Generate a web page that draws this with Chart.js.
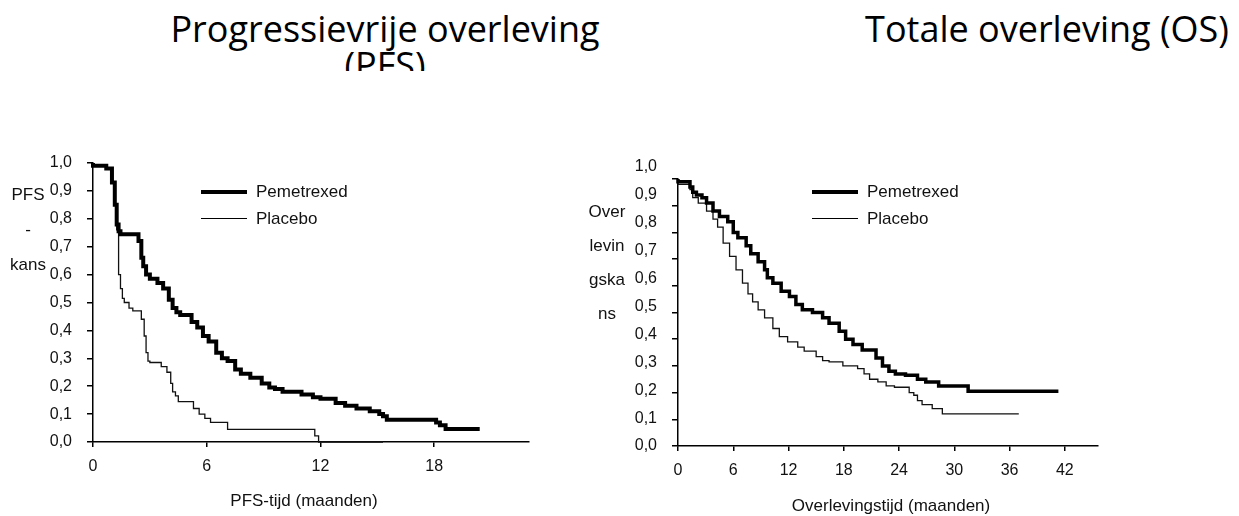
<!DOCTYPE html>
<html>
<head>
<meta charset="utf-8">
<script src="https://cdn.jsdelivr.net/npm/chart.js@4.4.1/dist/chart.umd.min.js"></script>
<style>
  html, body { margin: 0; padding: 0; background: #fff; }
  body { width: 1239px; height: 516px; position: relative; overflow: hidden; font-family: 'Liberation Sans', Arial, sans-serif; color: #111; }
  .title { position: absolute; font-family: 'Open Sans', 'Noto Sans', sans-serif; font-size: 36px; line-height: 36px; text-align: center; overflow: hidden; color: #000; }
  .box { position: absolute; }
  .ytitle { position: absolute; font-size: 17px; line-height: 35px; text-align: center; }
  .xtitle { position: absolute; font-size: 17px; white-space: nowrap; transform: translate(-50%, -50%); }
  .leg { position: absolute; font-size: 17px; }
  .leg div { position: relative; height: 27px; line-height: 27px; padding-left: 55px; }
  .leg span { position: absolute; left: 0; width: 46px; top: 50%; background: #000; }
</style>
</head>
<body>
<div class="title" style="left:160px; top:11px; width:450px; height:60px;">Progressievrije overleving (PFS)</div>
<div class="title" style="left:822px; top:11px; width:450px; height:60px;">Totale overleving (OS)</div>

<div class="box" style="left:0; top:133px; width:560px; height:383px;"><canvas id="pfs"></canvas></div>
<div class="box" style="left:600px; top:150px; width:639px; height:366px;"><canvas id="os"></canvas></div>

<div class="ytitle" style="left:0; top:177px; width:56px;">PFS<br>-<br>kans</div>
<div class="ytitle" style="left:582px; top:195px; width:50px; line-height:34px;">Over<br>levin<br>gska<br>ns</div>

<div class="xtitle" style="left:304px; top:501px;">PFS-tijd (maanden)</div>
<div class="xtitle" style="left:891px; top:506px;">Overlevingstijd (maanden)</div>

<div class="leg" style="left:201px; top:178px;">
  <div><span style="height:4px; margin-top:-2px;"></span>Pemetrexed</div>
  <div><span style="height:1.3px; margin-top:-1px;"></span>Placebo</div>
</div>
<div class="leg" style="left:812px; top:178px;">
  <div><span style="height:4px; margin-top:-2px;"></span>Pemetrexed</div>
  <div><span style="height:1.3px; margin-top:-1px;"></span>Placebo</div>
</div>

<script>
// PFS (months, survival probability)
const pfsPemTime = [0, 0.7, 1.0, 1.15, 1.25, 1.35, 1.45, 2.4, 2.55, 2.65, 2.8, 3.0, 3.4, 3.7, 4.0, 4.2, 4.4, 4.6, 5.2, 5.5, 5.8, 6.1, 6.5, 6.8, 7.1, 7.5, 7.8, 8.3, 8.9, 9.3, 9.6, 10.0, 11.0, 11.6, 12.0, 12.8, 13.3, 13.9, 14.6, 15.1, 15.3, 15.5, 18.1, 18.3, 18.6, 18.9, 20.4];
const pfsPemSurv = [1.0, 0.99, 0.98, 0.93, 0.85, 0.78, 0.755, 0.745, 0.72, 0.66, 0.63, 0.60, 0.585, 0.57, 0.55, 0.51, 0.48, 0.465, 0.455, 0.43, 0.41, 0.38, 0.36, 0.32, 0.30, 0.29, 0.26, 0.245, 0.23, 0.21, 0.195, 0.19, 0.18, 0.17, 0.16, 0.155, 0.14, 0.13, 0.12, 0.11, 0.10, 0.092, 0.08, 0.07, 0.06, 0.047, 0.047];
const pfsPlaTime = [0, 0.7, 1.0, 1.15, 1.25, 1.35, 1.45, 1.55, 1.65, 1.9, 2.1, 2.55, 2.7, 2.8, 2.9, 3.0, 3.6, 3.9, 4.1, 4.2, 4.35, 4.5, 5.3, 5.6, 5.9, 6.2, 7.1, 11.7, 11.9, 15.3];
const pfsPlaSurv = [1.0, 0.99, 0.98, 0.93, 0.85, 0.76, 0.60, 0.55, 0.515, 0.50, 0.48, 0.47, 0.44, 0.38, 0.32, 0.29, 0.285, 0.27, 0.25, 0.21, 0.18, 0.165, 0.145, 0.12, 0.10, 0.085, 0.07, 0.045, 0.022, 0.0];

// OS
const osPemTime = [0, 1.3, 1.6, 2.0, 2.6, 3.1, 3.8, 4.5, 5.4, 6.0, 6.5, 7.4, 7.9, 8.7, 9.4, 9.7, 10.3, 11.2, 12.1, 12.8, 13.5, 14.6, 15.7, 16.4, 17.5, 18.2, 19.0, 20.0, 21.5, 22.2, 22.9, 23.6, 24.7, 26.0, 26.9, 28.3, 31.5, 33.5, 41.3];
const osPemSurv = [1.0, 0.99, 0.97, 0.95, 0.94, 0.93, 0.91, 0.88, 0.86, 0.84, 0.80, 0.78, 0.75, 0.72, 0.69, 0.66, 0.63, 0.61, 0.58, 0.56, 0.53, 0.51, 0.50, 0.48, 0.46, 0.43, 0.40, 0.38, 0.36, 0.33, 0.30, 0.28, 0.27, 0.265, 0.25, 0.24, 0.225, 0.205, 0.205];
const osPlaTime = [0, 1.3, 1.6, 2.2, 3.1, 3.8, 4.3, 4.9, 5.6, 6.3, 7.0, 7.6, 8.1, 8.7, 9.4, 10.3, 11.0, 11.9, 13.0, 13.7, 15.0, 15.7, 16.4, 17.9, 19.5, 20.2, 20.8, 21.7, 22.6, 23.5, 25.1, 25.6, 26.0, 26.5, 27.6, 28.7, 30.9, 37.0];
const osPlaSurv = [1.0, 0.98, 0.96, 0.93, 0.91, 0.88, 0.85, 0.82, 0.76, 0.71, 0.66, 0.61, 0.57, 0.54, 0.51, 0.48, 0.44, 0.41, 0.39, 0.37, 0.355, 0.335, 0.32, 0.315, 0.30, 0.29, 0.27, 0.25, 0.24, 0.225, 0.22, 0.20, 0.19, 0.17, 0.155, 0.14, 0.12, 0.12];

const seriesNames = ['Pemetrexed', 'Placebo'];
const yTickValues = [0, 0.1, 0.2, 0.3, 0.4, 0.5, 0.6, 0.7, 0.8, 0.9, 1.0];

function pts(t, s) {
    return t.map((x, i) => ({ x: x, y: s[i] }));
}

// labelMax < 1 spreads the y labels a bit wider than the tick marks (as in the OS panel)
function makeChart(id, sets, xMax, yWidth, xHeight, pad, thick, labelMax) {
    const ctx = document.getElementById(id).getContext('2d');
    return new Chart(ctx, {
        type: 'line',
        data: {
            datasets: [{
                label: seriesNames[0],
                data: pts(sets[0], sets[1]),
                borderColor: '#000',
                borderWidth: thick,
                stepped: 'after',
                pointRadius: 0,
                clip: false
            }, {
                label: seriesNames[1],
                data: pts(sets[2], sets[3]),
                borderColor: '#111',
                borderWidth: 1.3,
                stepped: 'after',
                pointRadius: 0,
                clip: false
            }]
        },
        options: {
            responsive: true,
            maintainAspectRatio: false,
            animation: false,
            layout: { padding: pad },
            plugins: {
                legend: { display: false },
                tooltip: { enabled: false }
            },
            scales: {
                x: {
                    type: 'linear',
                    min: 0,
                    max: xMax,
                    border: { display: true, color: '#000', width: 1.5 },
                    grid: { drawOnChartArea: false, drawTicks: true, tickLength: 5, color: '#000', lineWidth: 1.5 },
                    ticks: {
                        stepSize: 6,
                        includeBounds: false,
                        padding: 10,
                        color: '#111',
                        font: { family: "'Liberation Sans Narrow', 'Liberation Sans', Arial", size: 16 }
                    },
                    afterFit: (scale) => { scale.height = xHeight; }
                },
                y: {
                    min: 0,
                    max: 1,
                    weight: 0,
                    border: { display: true, color: '#000', width: 1.5 },
                    grid: { drawOnChartArea: false, drawTicks: true, tickLength: 6, color: '#000', lineWidth: 1.5 },
                    ticks: { stepSize: 0.1, display: false },
                    afterFit: (scale) => { scale.width = 6; }
                },
                yl: {
                    position: 'left',
                    min: 0,
                    max: labelMax,
                    weight: 1,
                    border: { display: false },
                    grid: { display: false, drawTicks: false },
                    ticks: {
                        padding: 15,
                        autoSkip: false,
                        color: '#111',
                        font: { family: "'Liberation Sans', Arial", size: 16 },
                        callback: (v) => v.toFixed(1).replace('.', ',')
                    },
                    afterBuildTicks: (scale) => { scale.ticks = yTickValues.map(v => ({ value: v })); },
                    afterFit: (scale) => { scale.width = yWidth - 6; }
                }
            }
        }
    });
}

makeChart('pfs', [pfsPemTime, pfsPemSurv, pfsPlaTime, pfsPlaSurv], 23, 93, 74, { left: 0, top: 30, right: 31, bottom: 0 }, 4, 1);
makeChart('os', [osPemTime, osPemSurv, osPlaTime, osPlaSurv], 45.6, 78, 70, { left: 0, top: 29, right: 141, bottom: 0 }, 3.5, 0.957);
</script>
</body>
</html>
